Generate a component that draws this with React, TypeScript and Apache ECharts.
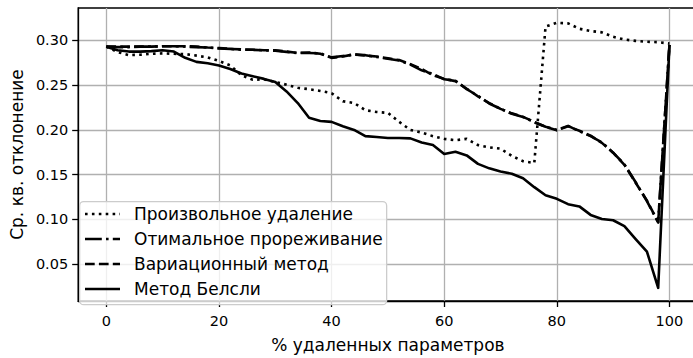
import React, { useEffect, useRef } from "react";
import * as echarts from "echarts";

const pct = [0, 2, 4, 6, 8, 10, 12, 14, 16, 18, 20, 22, 24, 26, 28, 30, 32, 34, 36, 38, 40, 42, 44, 46, 48, 50, 52, 54, 56, 58, 60, 62, 64, 66, 68, 70, 72, 74, 76, 78, 80, 82, 84, 86, 88, 90, 92, 94, 96, 98, 100];

const randomRemoval = [0.293, 0.287, 0.2835, 0.284, 0.285, 0.2855, 0.285, 0.2847, 0.283, 0.281, 0.277, 0.272, 0.261, 0.256, 0.2565, 0.2535, 0.2505, 0.247, 0.2455, 0.2435, 0.241, 0.232, 0.23, 0.222, 0.22, 0.219, 0.209, 0.2, 0.197, 0.193, 0.19, 0.1885, 0.19, 0.183, 0.1805, 0.179, 0.171, 0.165, 0.163, 0.3155, 0.3197, 0.319, 0.313, 0.3105, 0.309, 0.304, 0.301, 0.2995, 0.2985, 0.298, 0.2965];

const optimalPruning = [0.293, 0.2925, 0.2925, 0.293, 0.293, 0.2935, 0.2935, 0.293, 0.2925, 0.292, 0.291, 0.2905, 0.2895, 0.2895, 0.2888, 0.2885, 0.2872, 0.2858, 0.286, 0.2855, 0.281, 0.2825, 0.284, 0.2835, 0.2815, 0.2795, 0.2775, 0.273, 0.2665, 0.2625, 0.2565, 0.255, 0.2455, 0.238, 0.2295, 0.2235, 0.218, 0.2145, 0.2085, 0.2035, 0.2, 0.2045, 0.1985, 0.193, 0.186, 0.1745, 0.1615, 0.1415, 0.1205, 0.0965, 0.295];

const variational = [0.293, 0.293, 0.293, 0.293, 0.293, 0.2935, 0.2935, 0.2935, 0.293, 0.292, 0.2915, 0.2905, 0.29, 0.2895, 0.289, 0.289, 0.2875, 0.286, 0.2865, 0.285, 0.2805, 0.282, 0.2845, 0.283, 0.282, 0.28, 0.278, 0.2735, 0.268, 0.261, 0.257, 0.2545, 0.246, 0.2375, 0.23, 0.2235, 0.2185, 0.2145, 0.209, 0.2035, 0.1995, 0.204, 0.199, 0.1935, 0.1855, 0.1745, 0.161, 0.141, 0.121, 0.097, 0.295];

const belsley = [0.293, 0.289, 0.2875, 0.2875, 0.288, 0.289, 0.2875, 0.2805, 0.276, 0.2745, 0.272, 0.268, 0.263, 0.26, 0.257, 0.2535, 0.243, 0.23, 0.2135, 0.21, 0.209, 0.204, 0.2, 0.193, 0.192, 0.191, 0.191, 0.1905, 0.186, 0.183, 0.173, 0.1755, 0.1715, 0.162, 0.157, 0.1535, 0.151, 0.146, 0.136, 0.127, 0.123, 0.117, 0.1145, 0.105, 0.1005, 0.099, 0.0925, 0.078, 0.064, 0.0235, 0.295];

const seriesNames = ["Произвольное удаление", "Отимальное прореживание", "Вариационный метод", "Метод Белсли"];
const xTicks = [0, 20, 40, 60, 80, 100];
const yTicks = [0.05, 0.1, 0.15, 0.2, 0.25, 0.3];
const xTitle = "% удаленных параметров";
const yTitle = "Ср. кв. отклонение";

const FONT = "DejaVu Sans";
const LW = 2.6;
const dashes: (number[] | "solid")[] = [
  [2.6, 4.3],
  [16.8, 4.2, 2.6, 4.2],
  [9.7, 4.2],
  "solid",
];

export default function App() {
  const ref = useRef<HTMLDivElement>(null);
  useEffect(() => {
    document.documentElement.style.overflow = "hidden";
    document.body.style.overflow = "hidden";
    const chart = echarts.init(ref.current!, null, { renderer: "svg" });
    const allData = [randomRemoval, optimalPruning, variational, belsley];

    const legendLeft = 79;
    const legendTop = 201;
    const rowY = [214, 239, 264, 289];
    const graphic: any[] = [
      {
        type: "rect",
        left: legendLeft,
        top: legendTop,
        shape: { x: 0, y: 0, width: 307, height: 103, r: 4 },
        style: { fill: "rgba(255,255,255,0.8)", stroke: "#cccccc", lineWidth: 1.3 },
        z: 10,
      },
    ];
    seriesNames.forEach((name, i) => {
      const d = dashes[i];
      graphic.push({
        type: "line",
        shape: { x1: 85, y1: rowY[i], x2: 120, y2: rowY[i] },
        style: {
          stroke: "#000",
          lineWidth: LW,
          lineDash: d === "solid" ? null : d,
          lineCap: "butt",
        },
        z: 11,
      });
      graphic.push({
        type: "text",
        x: 134,
        y: rowY[i],
        style: {
          text: name,
          fill: "#000",
          font: `17px "${FONT}"`,
          textVerticalAlign: "middle",
          verticalAlign: "middle",
          align: "left",
        },
        z: 11,
      });
    });

    chart.setOption({
      animation: false,
      backgroundColor: "#ffffff",
      textStyle: { fontFamily: FONT },
      grid: {
        left: 70,
        top: 8,
        width: 627.6,
        height: 304.7,
        show: true,
        borderColor: "#000",
        borderWidth: 1.3,
        backgroundColor: "transparent",
      },
      xAxis: {
        type: "value",
        min: -5,
        max: 105,
        name: xTitle,
        nameLocation: "middle",
        nameGap: 35,
        nameTextStyle: { fontSize: 17, color: "#000", fontFamily: FONT },
        axisLine: { show: true, onZero: false, lineStyle: { color: "#000", width: 1.3 } },
        axisTick: { show: true, inside: false, length: 6, customValues: xTicks, lineStyle: { color: "#000", width: 1.3 } },
        axisLabel: { customValues: xTicks, margin: 12, fontSize: 14.5, color: "#000", fontFamily: FONT },
        splitLine: { show: true, lineStyle: { color: "#b0b0b0", width: 1.3 } },
      },
      yAxis: {
        type: "value",
        min: 0.0088,
        max: 0.3362,
        name: yTitle,
        nameLocation: "middle",
        nameGap: 49,
        nameTextStyle: { fontSize: 17, color: "#000", fontFamily: FONT },
        axisLine: { show: true, onZero: false, lineStyle: { color: "#000", width: 1.3 } },
        axisTick: { show: true, inside: false, length: 6, customValues: yTicks, lineStyle: { color: "#000", width: 1.3 } },
        axisLabel: {
          customValues: yTicks,
          margin: 10,
          fontSize: 14.5,
          color: "#000",
          fontFamily: FONT,
          formatter: (v: number) => v.toFixed(2),
        },
        splitLine: { show: true, lineStyle: { color: "#b0b0b0", width: 1.3 } },
      },
      series: seriesNames.map((name, i) => ({
        name,
        type: "line",
        data: pct.map((x, j) => [x, allData[i][j]]),
        showSymbol: false,
        symbol: "none",
        lineStyle: { color: "#000", width: LW, type: dashes[i], cap: "butt", join: "round" },
        z: 3 + i,
      })),
      graphic,
    });
    return () => chart.dispose();
  }, []);
  return (
    <div
      ref={ref}
      style={{ position: "fixed", left: 0, top: 0, width: 700, height: 358, overflow: "hidden" }}
    />
  );
}
